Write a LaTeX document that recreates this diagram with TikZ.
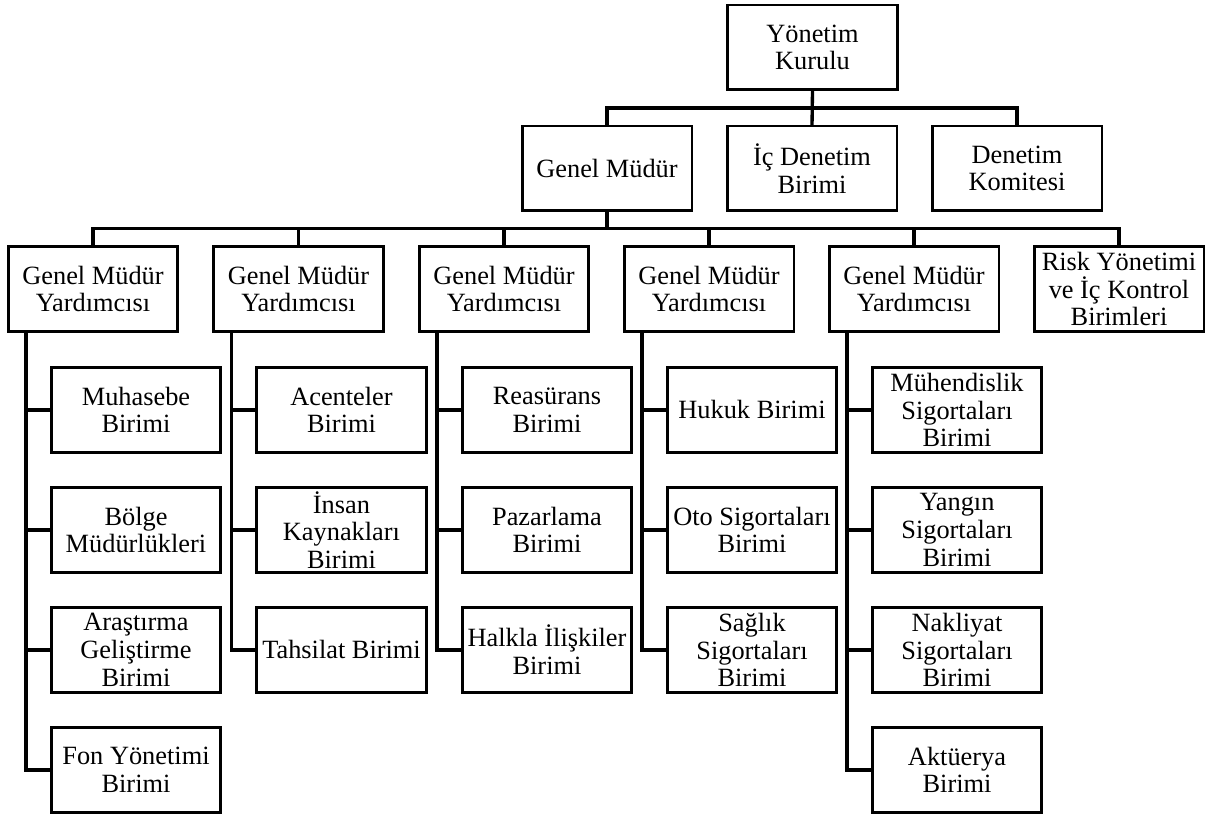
\documentclass[tikz,border=0pt]{standalone}
\usepackage{fontspec}
\setmainfont{Liberation Serif}
\usetikzlibrary{positioning}

\tikzset{unitbox/.style={draw=black, line width=1.7pt, text=black, align=center, minimum width=3.4cm, minimum height=1.7cm, inner sep=0pt, outer sep=0pt, font=\fontsize{15}{15.8}\selectfont}}
\tikzset{link/.style={line width=1.9pt}}

\begin{document}
\begin{tikzpicture}[x=0.02cm, y=-0.02cm, node distance=0.7cm]
\useasboundingbox (0,0) rectangle (1206,817);

\node[unitbox] (board) at (812.5,47.5) {Yönetim\\Kurulu};
\node[unitbox] (gm) at (607,168.5) {Genel Müdür};
\node[unitbox] (audit) at (812,168.5) {İç Denetim\\Birimi};
\node[unitbox] (committee) at (1017,168.5) {Denetim\\Komitesi};

\node[unitbox] (gmy1) at (93,289) {Genel Müdür\\Yardımcısı};
\node[unitbox] (gmy2) at (298.5,289) {Genel Müdür\\Yardımcısı};
\node[unitbox] (gmy3) at (504,289) {Genel Müdür\\Yardımcısı};
\node[unitbox] (gmy4) at (709,289) {Genel Müdür\\Yardımcısı};
\node[unitbox] (gmy5) at (914,289) {Genel Müdür\\Yardımcısı};
\node[unitbox] (risk) at (1119,289) {Risk Yönetimi\\ve İç Kontrol\\Birimleri};

% first assistant
\node[unitbox, below=0.72cm of gmy1, xshift=0.86cm] (muhasebe) {Muhasebe\\Birimi};
\node[unitbox, below=of muhasebe] (bolge) {Bölge\\Müdürlükleri};
\node[unitbox, below=of bolge] (arge) {Araştırma\\Geliştirme\\Birimi};
\node[unitbox, below=of arge] (fon) {Fon Yönetimi\\Birimi};

% second assistant
\node[unitbox, below=0.72cm of gmy2, xshift=0.86cm] (acente) {Acenteler\\Birimi};
\node[unitbox, below=of acente] (ik) {İnsan\\Kaynakları\\Birimi};
\node[unitbox, below=of ik] (tahsilat) {Tahsilat Birimi};

% third assistant
\node[unitbox, below=0.72cm of gmy3, xshift=0.86cm] (reasurans) {Reasürans\\Birimi};
\node[unitbox, below=of reasurans] (pazarlama) {Pazarlama\\Birimi};
\node[unitbox, below=of pazarlama] (halkla) {Halkla İlişkiler\\Birimi};

% fourth assistant
\node[unitbox, below=0.72cm of gmy4, xshift=0.86cm] (hukuk) {Hukuk Birimi};
\node[unitbox, below=of hukuk] (oto) {Oto Sigortaları\\Birimi};
\node[unitbox, below=of oto] (saglik) {Sağlık\\Sigortaları\\Birimi};

% fifth assistant
\node[unitbox, below=0.72cm of gmy5, xshift=0.86cm] (muhendislik) {Mühendislik\\Sigortaları\\Birimi};
\node[unitbox, below=of muhendislik] (yangin) {Yangın\\Sigortaları\\Birimi};
\node[unitbox, below=of yangin] (nakliyat) {Nakliyat\\Sigortaları\\Birimi};
\node[unitbox, below=of nakliyat] (aktuerya) {Aktüerya\\Birimi};

\draw[link] (board.south) -- (audit.north);
\draw[link] (gm.north) -- ++(0,-18) -| (committee.north);
\draw[link] (gm.south) -- ++(0,18);
\draw[link] (gmy1.north) -- ++(0,-18) -| (risk.north);
\foreach \g in {gmy2,gmy3,gmy4,gmy5}
  \draw[link] (\g.north) -- ++(0,-18);

\foreach \g/\u in {gmy1/muhasebe,gmy1/bolge,gmy1/arge,gmy1/fon,
                   gmy2/acente,gmy2/ik,gmy2/tahsilat,
                   gmy3/reasurans,gmy3/pazarlama,gmy3/halkla,
                   gmy4/hukuk,gmy4/oto,gmy4/saglik,
                   gmy5/muhendislik,gmy5/yangin,gmy5/nakliyat,gmy5/aktuerya}
  \draw[link] ([xshift=0.36cm]\g.south west) |- (\u.west);

\end{tikzpicture}
\end{document}
